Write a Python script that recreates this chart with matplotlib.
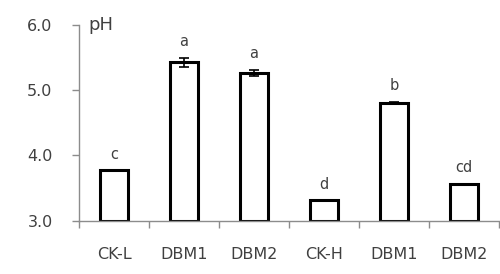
import numpy as np
import matplotlib
matplotlib.use("Agg")
from matplotlib import pyplot as plt

categories = ["CK-L", "DBM1", "DBM2", "CK-H", "DBM1", "DBM2"]
ph_values = [3.77, 5.43, 5.26, 3.31, 4.81, 3.56]
ph_errors = [0.0, 0.07, 0.05, 0.0, 0.01, 0.01]
letters = ["c", "a", "a", "d", "b", "cd"]

plt.rcParams['font.family'] = ['DejaVu Sans']
txt = '#404040'
grey = '#8c8c8c'

fig = plt.figure(figsize=(5, 2.74), dpi=100)
ax = fig.add_axes([0.158, 0.1945, 0.84, 0.7145])

x = np.arange(len(categories))
ax.bar(x, np.array(ph_values) - 3.0, bottom=3.0, width=0.4, color='white',
       edgecolor='black', linewidth=2.2, zorder=2)
ax.errorbar(x, ph_values, yerr=ph_errors, fmt='none', ecolor='black',
            elinewidth=1.2, capsize=3.5, capthick=1.2, zorder=3)

for xi, v, e, s in zip(x, ph_values, ph_errors, letters):
    ax.text(xi, v + e + 0.13, s, ha='center', va='bottom', fontsize=10.5, color=txt)

ax.text(-0.37, 6.0, "pH", ha='left', va='center', fontsize=13, color=txt)

ax.set_xlim(-0.5, len(categories) - 0.5)
ax.set_ylim(3.0, 6.0)
ax.set_yticks([3.0, 4.0, 5.0, 6.0])
ax.set_yticklabels(["3.0", "4.0", "5.0", "6.0"])
ax.set_xticks(x)
ax.set_xticklabels(categories)
ax.set_xticks(np.arange(len(categories) + 1) - 0.5, minor=True)

for side in ['top', 'right']:
    ax.spines[side].set_visible(False)
for side in ['left', 'bottom']:
    ax.spines[side].set_color(grey)
    ax.spines[side].set_linewidth(1.0)

ax.tick_params(axis='y', length=5, width=1, color=grey, pad=14,
               labelsize=11.5, labelcolor=txt)
ax.tick_params(axis='x', which='major', length=0, pad=19,
               labelsize=11.5, labelcolor=txt)
ax.tick_params(axis='x', which='minor', length=5, width=1, color=grey)

fig.savefig("out.png", dpi=100)
